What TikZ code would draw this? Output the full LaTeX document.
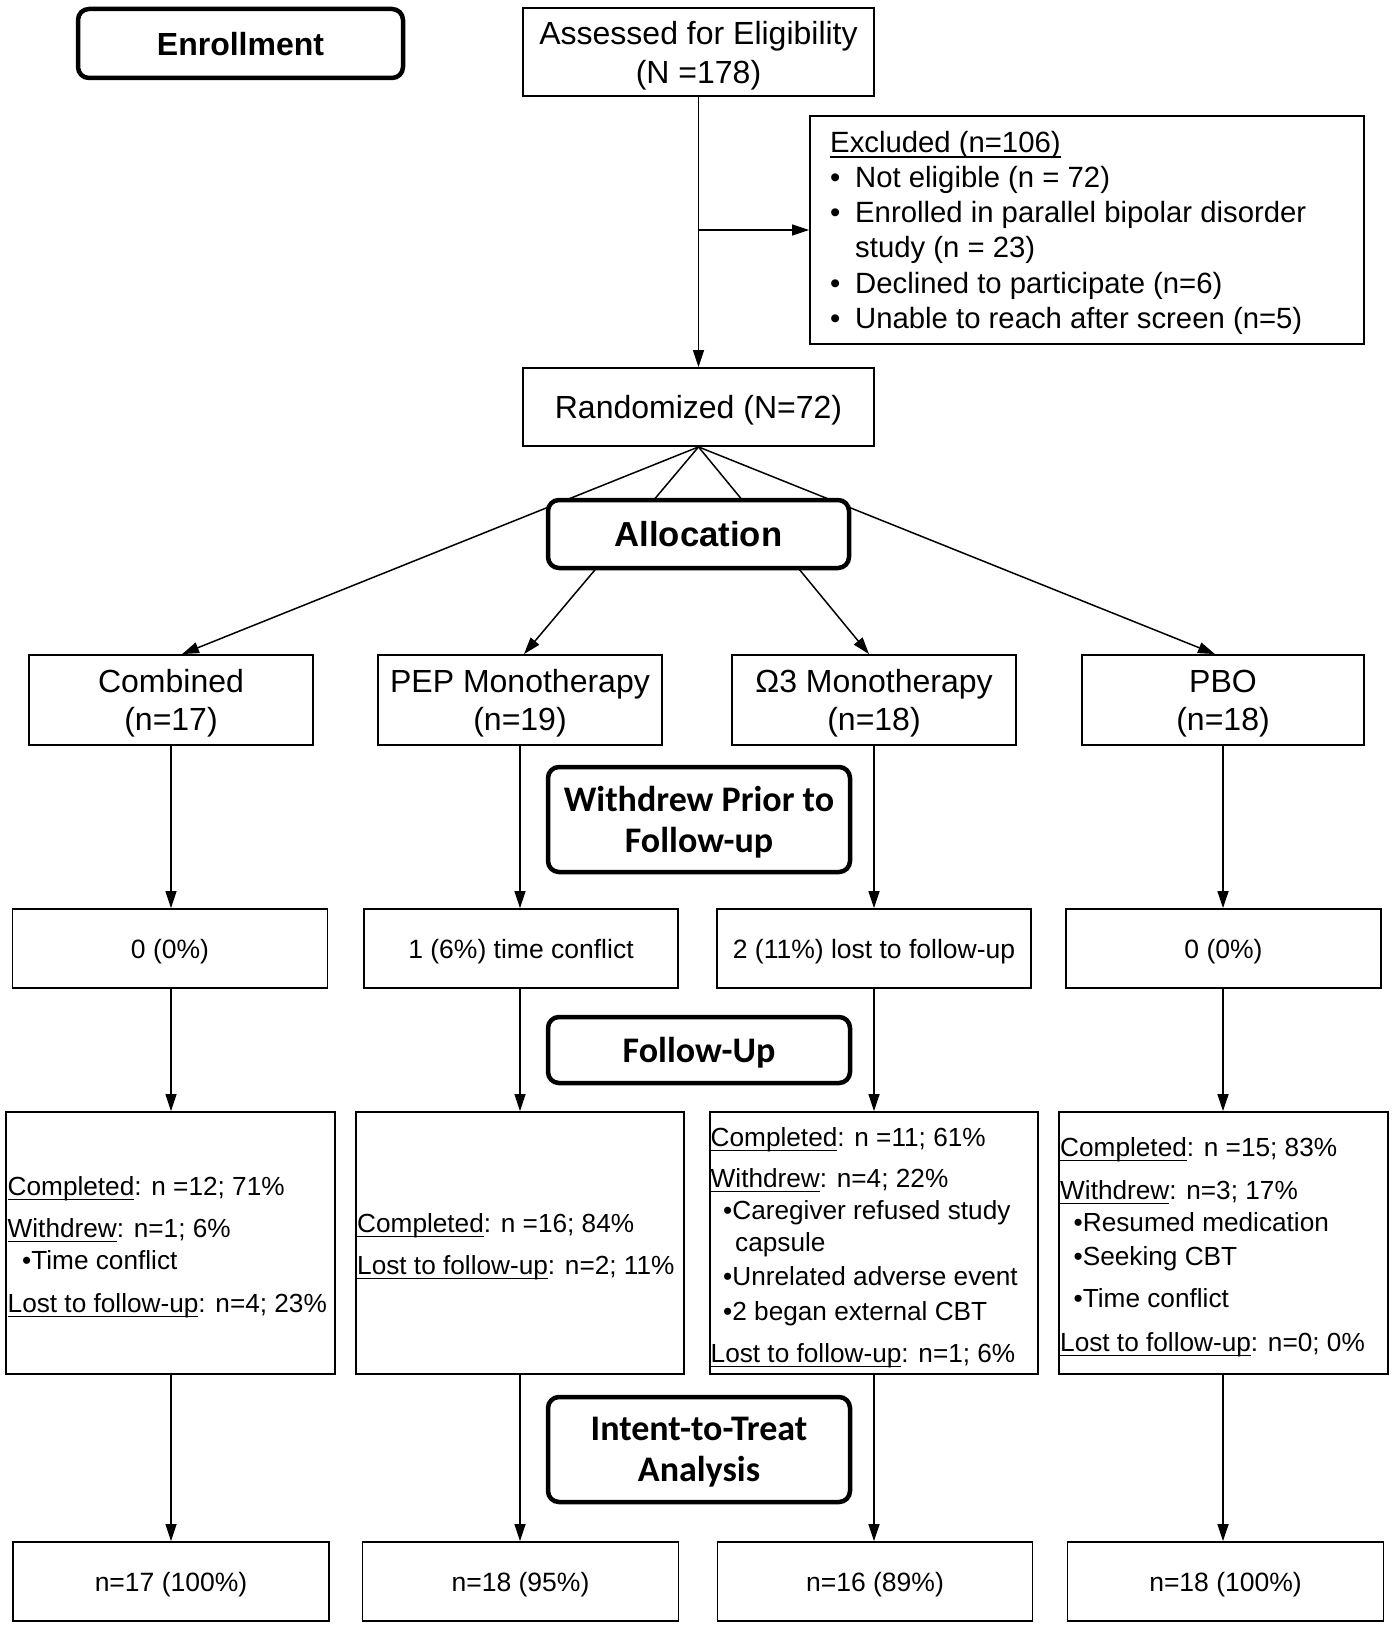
\documentclass[tikz,border=0pt]{standalone}
\usepackage{fontspec}
\setmainfont{Liberation Sans}
\newfontfamily\calib{Carlito}
\newcommand\myul[1]{\setbox0\hbox{#1}\rlap{\rule[-4.6pt]{\wd0}{1.4pt}}\box0}
\usetikzlibrary{arrows.meta}
\begin{document}
\begin{tikzpicture}[x=1pt,y=-1pt,
  box/.style={draw, line width=1.8pt, inner sep=0pt, align=center, text depth=0pt},
  hdr/.style={draw, line width=4.5pt, rounded corners=11pt, fill=white, inner sep=0pt, align=center, text depth=0pt},
  conn/.style={line width=1.5pt},
  arr/.style={conn, -{Triangle[length=17pt,width=11pt]}},
  bigf/.style={font=\fontsize{32}{39}\selectfont},
  rowf/.style={font=\fontsize{32}{38}\selectfont},
  exf/.style={font=\fontsize{29.3}{35}\selectfont, anchor=base west, inner sep=0pt},
  smf/.style={font=\fontsize{26.5}{32}\selectfont},
  ln/.style={font=\fontsize{26.2}{32}\selectfont, anchor=base west, inner sep=0pt},
  hA/.style={font=\bfseries\fontsize{32}{37}\selectfont},
  hB/.style={font=\calib\bfseries\fontsize{36}{41.5}\selectfont},
]
\useasboundingbox (0,0) rectangle (1393,1629);

% headers (not connected)
\node[hdr, hA, minimum width=325, minimum height=69] (enroll) at (240.5,43.5) {Enrollment};

% top boxes
\node[box, bigf, minimum width=351, minimum height=88] (assess) at (698.5,52) {Assessed for Eligibility\\(N =178)};
\node[box, minimum width=554, minimum height=228] (excl) at (1087,230) {};
\node[exf] (ex0) at (830,153) {\myul{Excluded (n=106)}};
\node[exf] (ex1) at (830,188) {\makebox[25pt][l]{•}Not eligible (n = 72)};
\node[exf] (ex2) at (830,223) {\makebox[25pt][l]{•}Enrolled in parallel bipolar disorder};
\node[exf] (ex3) at (855,258) {study (n = 23)};
\node[exf] (ex4) at (830,293) {\makebox[25pt][l]{•}Declined to participate (n=6)};
\node[exf] (ex5) at (830,328) {\makebox[25pt][l]{•}Unable to reach after screen (n=5)};
\node[box, bigf, minimum width=351, minimum height=78] (rand) at (698.5,407) {Randomized (N=72)};

% row 1
\node[box, rowf, minimum width=284, minimum height=90] (a1) at (171,700) {Combined\\(n=17)};
\node[box, rowf, minimum width=284, minimum height=90] (b1) at (520,700) {PEP Monotherapy\\(n=19)};
\node[box, rowf, minimum width=284, minimum height=90] (c1) at (874,700) {Ω3 Monotherapy\\(n=18)};
\node[box, rowf, minimum width=282, minimum height=90] (d1) at (1223,700) {PBO\\(n=18)};

% row 2
\node[box, smf, minimum width=315, minimum height=79] (a2) at (170,948.5) {0 (0\%)};
\node[box, smf, minimum width=314, minimum height=79] (b2) at (521,948.5) {1 (6\%) time conflict};
\node[box, smf, minimum width=314, minimum height=79] (c2) at (874,948.5) {2 (11\%) lost to follow-up};
\node[box, smf, minimum width=315, minimum height=79] (d2) at (1223.5,948.5) {0 (0\%)};

% row 3
\node[box, minimum width=329, minimum height=262] (a3) at (170.5,1243) {};
\node[box, minimum width=328, minimum height=262] (b3) at (520,1243) {};
\node[box, minimum width=328, minimum height=262] (c3) at (874,1243) {};
\node[box, minimum width=329, minimum height=262] (d3) at (1223.5,1243) {};

\node[ln] (a3t1) at (7.5,1195.5) {\myul{Completed}: n =12; 71\%};
\node[ln] (a3t2) at (7.5,1237.5) {\myul{Withdrew}: n=1; 6\%};
\node[ln] (a3t3) at (22,1269.5) {•Time conflict};
\node[ln] (a3t4) at (7.5,1312.5) {\myul{Lost to follow-up}: n=4; 23\%};

\node[ln] (b3t1) at (357,1232.5) {\myul{Completed}: n =16; 84\%};
\node[ln] (b3t2) at (357,1274.5) {\myul{Lost to follow-up}: n=2; 11\%};

\node[ln] (c3t1) at (710.5,1146.5) {\myul{Completed}: n =11; 61\%};
\node[ln] (c3t2) at (710.5,1187.5) {\myul{Withdrew}: n=4; 22\%};
\node[ln] (c3t3) at (723,1219.5) {•Caregiver refused study};
\node[ln] (c3t4) at (735,1251.5) {capsule};
\node[ln] (c3t5) at (723,1285.5) {•Unrelated adverse event};
\node[ln] (c3t6) at (723,1320.5) {•2 began external CBT};
\node[ln] (c3t7) at (710.5,1362.5) {\myul{Lost to follow-up}: n=1; 6\%};

\node[ln] (d3t1) at (1060,1156.5) {\myul{Completed}: n =15; 83\%};
\node[ln] (d3t2) at (1060,1199.5) {\myul{Withdrew}: n=3; 17\%};
\node[ln] (d3t3) at (1073.5,1231.5) {•Resumed medication};
\node[ln] (d3t4) at (1073.5,1265.5) {•Seeking CBT};
\node[ln] (d3t5) at (1073.5,1307.5) {•Time conflict};
\node[ln] (d3t6) at (1060,1351.5) {\myul{Lost to follow-up}: n=0; 0\%};

% row 4
\node[box, smf, minimum width=316, minimum height=79] (a4) at (171,1581.5) {n=17 (100\%)};
\node[box, smf, minimum width=316, minimum height=79] (b4) at (520.5,1581.5) {n=18 (95\%)};
\node[box, smf, minimum width=315, minimum height=79] (c4) at (875,1581.5) {n=16 (89\%)};
\node[box, smf, minimum width=316, minimum height=79] (d4) at (1225.5,1581.5) {n=18 (100\%)};

% connectors
\draw[arr] (assess.south) -- (rand.north);
\coordinate (brk) at (assess.south |- excl.west);
\draw[arr] (brk) -- (excl.west);

\draw[arr] (rand.south) -- ([xshift=11pt]a1.north);
\draw[arr] (rand.south) -- ([xshift=4pt]b1.north);
\draw[arr] (rand.south) -- ([xshift=-5pt]c1.north);
\draw[arr] (rand.south) -- ([xshift=-8pt]d1.north);

\foreach \c in {a,b,c,d}{
  \draw[arr] (\c1.south) -- (\c1.south |- \c2.north);
  \draw[arr] (\c1.south |- \c2.south) -- (\c1.south |- \c3.north);
  \draw[arr] (\c1.south |- \c3.south) -- (\c1.south |- \c4.north);
}

% header boxes drawn over the lines
\node[hdr, font=\bfseries\fontsize{34.7}{40}\selectfont, minimum width=301, minimum height=68] (alloc) at (698.5,534) {Allocation};
\node[hdr, hB, minimum width=302, minimum height=105] (wpf) at (699,819.5) {Withdrew Prior to\\Follow-up};
\node[hB, hdr, minimum width=302, minimum height=66] (fu) at (699,1050) {Follow-Up};
\node[hB, hdr, minimum width=302, minimum height=105] (itt) at (699,1449.5) {Intent-to-Treat\\Analysis};
\end{tikzpicture}
\end{document}
